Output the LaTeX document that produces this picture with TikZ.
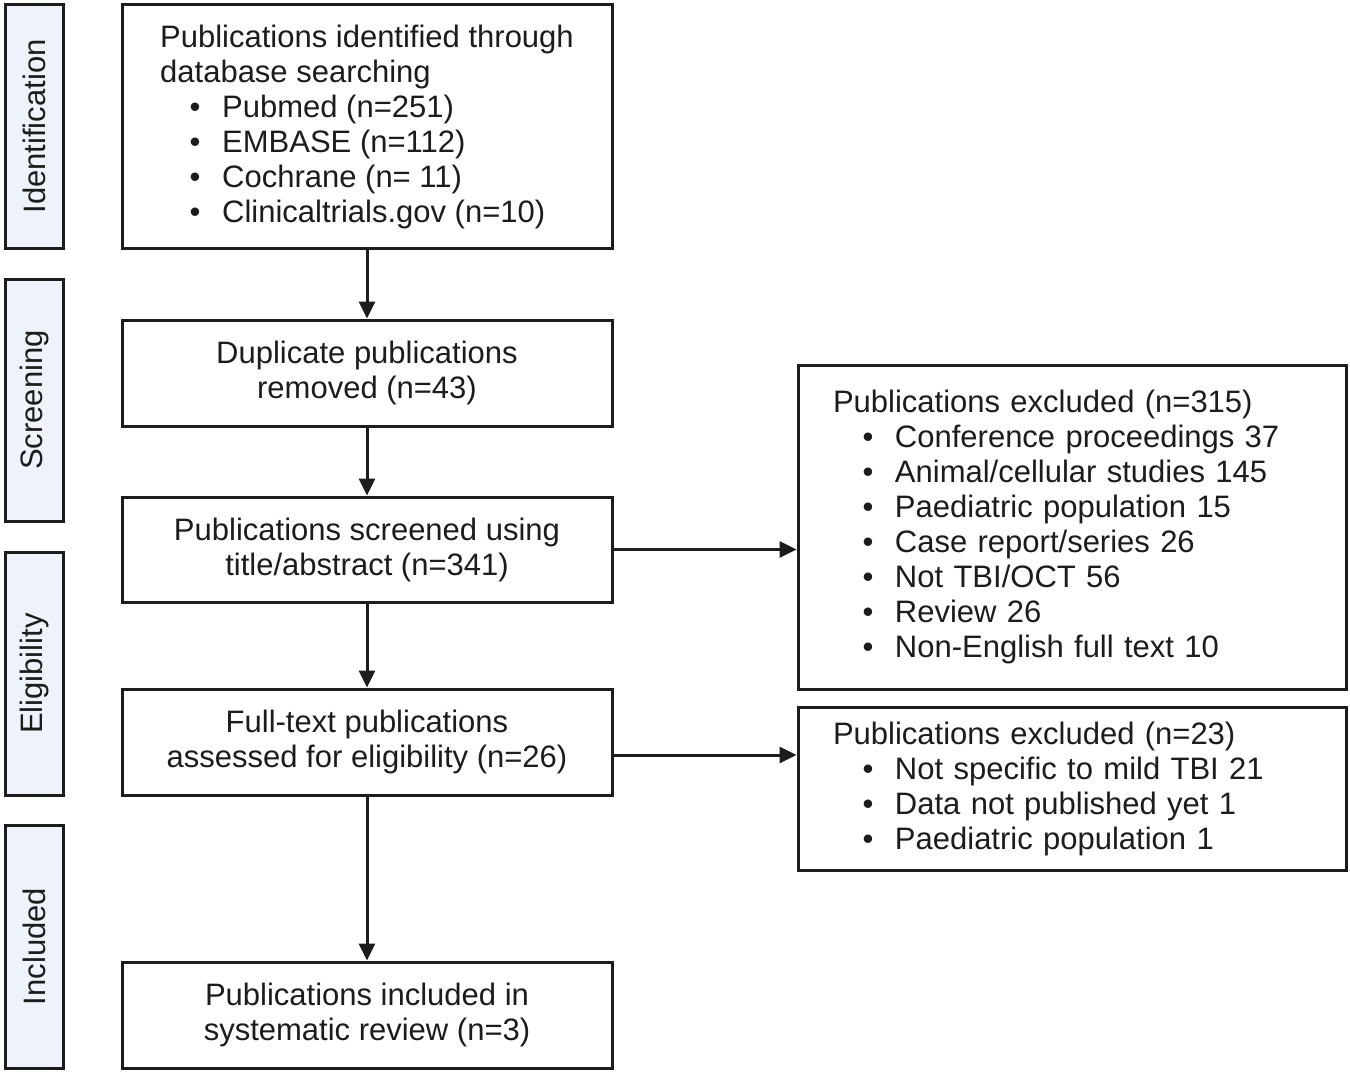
\documentclass[tikz,border=0pt]{standalone}
\usepackage{fontspec}
\setmainfont{Liberation Sans}
\usetikzlibrary{arrows.meta}
\definecolor{ink}{HTML}{1C1C1C}
\definecolor{sidefill}{HTML}{EEF2FA}
\newcommand\bul[1]{\hspace*{29.5pt}\makebox[32.5pt][l]{\textbullet}#1}
\tikzset{
  every node/.style={font=\fontsize{31}{35}\selectfont, text=ink},
  box/.style={draw=ink, line width=3pt, fill=white, inner sep=0pt},
  mainbox/.style={box, minimum width=490pt, align=center},
  sidebox/.style={draw=ink, line width=3pt, fill=sidefill, minimum width=58pt, inner sep=0pt},
  sidetext/.style={rotate=90, inner sep=0pt},
  rightbox/.style={box, text width=478pt, inner xsep=35pt, align=left},
  arr/.style={draw=ink, line width=3pt, -{Triangle[length=17pt,width=16pt]}}
}
\begin{document}
\begin{tikzpicture}[x=1pt,y=-1pt]
\useasboundingbox (0,0) rectangle (1350,1073);
% side labels
\node[sidebox, minimum height=243pt] (sid) at (34,126.5) {};
\node[sidetext] (tid) at (sid.center) {Identification};
\node[sidebox, minimum height=242pt] (ssc) at (34,400) {};
\node[sidetext] (tsc) at (ssc.center) {Screening};
\node[sidebox, minimum height=243pt] (sel) at (34,673.5) {};
\node[sidetext] (tel) at (sel.center) {Eligibility};
\node[sidebox, minimum height=243pt] (sin) at (34,946.5) {};
\node[sidetext] (tin) at (sin.center) {Included};
% main boxes
\node[mainbox, minimum height=243pt, align=left] (b1) at (367,126.5) {Publications identified through\\database searching\\\bul{Pubmed (n=251)}\\\bul{EMBASE (n=112)}\\\bul{Cochrane (n= 11)}\\\bul{Clinicaltrials.gov (n=10)}};
\node[mainbox, minimum height=106pt] (b2) at (367,373) {Duplicate publications\\removed (n=43)};
\node[mainbox, minimum height=105pt] (b3) at (367,549.5) {Publications screened using\\title/abstract (n=341)};
\node[mainbox, minimum height=106pt] (b4) at (367,742) {Full-text publications\\assessed for eligibility (n=26)};
\node[mainbox, minimum height=106pt] (b5) at (367,1015) {Publications included in\\systematic review (n=3)};
% right boxes
\node[rightbox, minimum height=324pt] (r1) at (1072,527) {Publications excluded (n=315)\\\bul{Conference proceedings 37}\\\bul{Animal/cellular studies 145}\\\bul{Paediatric population 15}\\\bul{Case report/series 26}\\\bul{Not TBI/OCT 56}\\\bul{Review 26}\\\bul{Non-English full text 10}};
\node[rightbox, minimum height=163pt] (r2) at (1072,788.5) {Publications excluded (n=23)\\\bul{Not specific to mild TBI 21}\\\bul{Data not published yet 1}\\\bul{Paediatric population 1}};
% connectors
\draw[arr] (b1.south) -- (b2.north);
\draw[arr] (b2.south) -- (b3.north);
\draw[arr] (b3.south) -- (b4.north);
\draw[arr] (b4.south) -- (b5.north);
\draw[arr] (b3.east) -- (b3.east -| r1.west);
\coordinate (a4) at (612,755);
\draw[arr] (a4) -- (a4 -| r2.west);
\end{tikzpicture}
\end{document}
